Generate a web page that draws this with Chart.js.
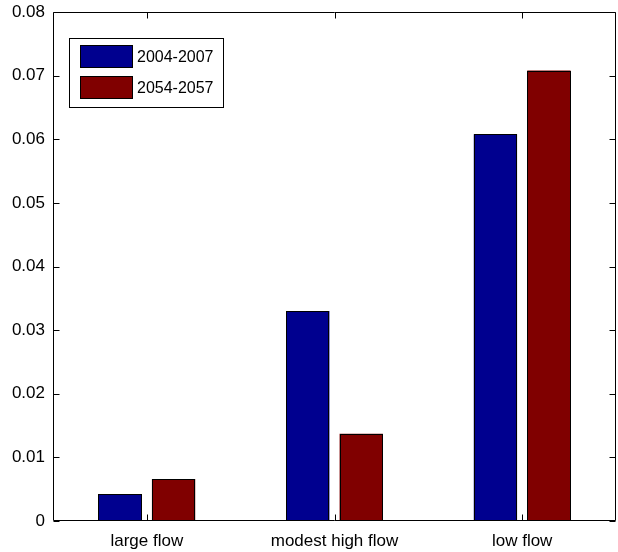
<!DOCTYPE html>
<html>
<head>
<meta charset="utf-8">
<script src="https://cdn.jsdelivr.net/npm/chart.js@4/dist/chart.umd.min.js"></script>
<style>
  html, body { margin: 0; padding: 0; background: #fff; }
  #wrap { width: 618px; height: 552px; position: relative; }
</style>
</head>
<body>
<div id="wrap"><canvas id="c" width="618" height="552"></canvas></div>
<script>
const categories = ['large flow', 'modest high flow', 'low flow'];
const seriesNames = ['2004-2007', '2054-2057'];
const series2004 = [0.00425, 0.0330, 0.0608];
const series2054 = [0.0066, 0.0137, 0.0708];
const yTickValues = [0, 0.01, 0.02, 0.03, 0.04, 0.05, 0.06, 0.07, 0.08];
const yTickLabels = ['0', '0.01', '0.02', '0.03', '0.04', '0.05', '0.06', '0.07', '0.08'];
const seriesColors = ['#00008F', '#800000'];

const FONT = '"Liberation Sans", Arial, Helvetica, sans-serif';

const frameAndLegend = {
  id: 'frameAndLegend',
  afterDatasetsDraw(chart) {
    const ctx = chart.ctx;
    ctx.save();
    ctx.strokeStyle = '#000';
    ctx.lineWidth = 1;
    chart.data.datasets.forEach((ds, di) => {
      chart.getDatasetMeta(di).data.forEach(el => {
        const p = el.getProps(['x', 'y', 'base', 'width'], true);
        const l = Math.round(p.x - p.width / 2) + 0.5;
        const r = Math.round(p.x + p.width / 2) - 0.5;
        const t = Math.round(p.y) + 0.5;
        const b = Math.round(p.base) - 0.5;
        ctx.fillStyle = ds.backgroundColor;
        ctx.fillRect(l, t, r - l, b - t);
        ctx.strokeRect(l, t, r - l, b - t);
      });
    });
    ctx.restore();
  },
  afterDraw(chart) {
    const ctx = chart.ctx;
    const a = chart.chartArea;
    const xs = chart.scales.x, ys = chart.scales.y;
    ctx.save();
    ctx.strokeStyle = '#000';
    ctx.lineWidth = 1;
    const L = Math.round(a.left) + 0.5, R = Math.round(a.right) - 0.5;
    const T = Math.round(a.top) + 0.5, B = Math.round(a.bottom) - 0.5;
    ctx.beginPath();
    ctx.rect(L, T, R - L, B - T);
    ctx.stroke();
    const tl = 6;
    ctx.beginPath();
    yTickValues.forEach(v => {
      const y = Math.round(ys.getPixelForValue(v)) + 0.5;
      ctx.moveTo(L, y); ctx.lineTo(L + tl, y);
      ctx.moveTo(R, y); ctx.lineTo(R - tl, y);
    });
    categories.forEach((c, i) => {
      const x = Math.round(xs.getPixelForValue(i)) + 0.5;
      ctx.moveTo(x, B); ctx.lineTo(x, B - tl);
      ctx.moveTo(x, T); ctx.lineTo(x, T + tl);
    });
    ctx.stroke();

    // legend box
    const bx = 69.5, by = 38.5, bw = 154, bh = 69;
    ctx.fillStyle = '#fff';
    ctx.fillRect(bx, by, bw, bh);
    ctx.strokeRect(bx, by, bw, bh);
    ctx.font = '16px ' + FONT;
    ctx.textBaseline = 'middle';
    ctx.textAlign = 'left';
    chart.data.datasets.forEach((ds, i) => {
      const sy = i === 0 ? 45.5 : 76.5;
      const sh = 22;
      ctx.fillStyle = ds.backgroundColor;
      ctx.fillRect(80.5, sy, 52, sh);
      ctx.strokeRect(80.5, sy, 52, sh);
      ctx.fillStyle = '#000';
      ctx.fillText(ds.label, 137, sy + sh / 2 + 1);
    });
    ctx.restore();
  }
};

new Chart(document.getElementById('c'), {
  type: 'bar',
  data: {
    labels: categories,
    datasets: [
      { label: seriesNames[0], data: series2004, backgroundColor: seriesColors[0], borderWidth: 0 },
      { label: seriesNames[1], data: series2054, backgroundColor: seriesColors[1], borderWidth: 0 }
    ]
  },
  options: {
    responsive: false,
    animation: false,
    devicePixelRatio: 1,
    layout: { padding: { top: 12, right: 2, left: 0, bottom: 0 } },
    datasets: { bar: { categoryPercentage: 0.57, barPercentage: 0.81 } },
    plugins: { legend: { display: false }, tooltip: { enabled: false } },
    scales: {
      x: {
        grid: { display: false, drawTicks: false },
        border: { display: false },
        ticks: { color: '#000', font: { family: FONT, size: 17 }, padding: 10, maxRotation: 0 },
        afterFit(s) { s.height = 31; s.paddingLeft = 0; s.paddingRight = 0; }
      },
      y: {
        min: 0, max: 0.08,
        afterBuildTicks(s) { s.ticks = yTickValues.map(v => ({ value: v })); },
        grid: { display: false, drawTicks: false },
        border: { display: false },
        ticks: {
          color: '#000', font: { family: FONT, size: 17 }, padding: 8,
          callback: (v, i) => yTickLabels[i]
        },
        afterFit(s) { s.width = 53; s.paddingTop = 0; s.paddingBottom = 0; }
      }
    }
  },
  plugins: [frameAndLegend]
});
</script>
</body>
</html>
